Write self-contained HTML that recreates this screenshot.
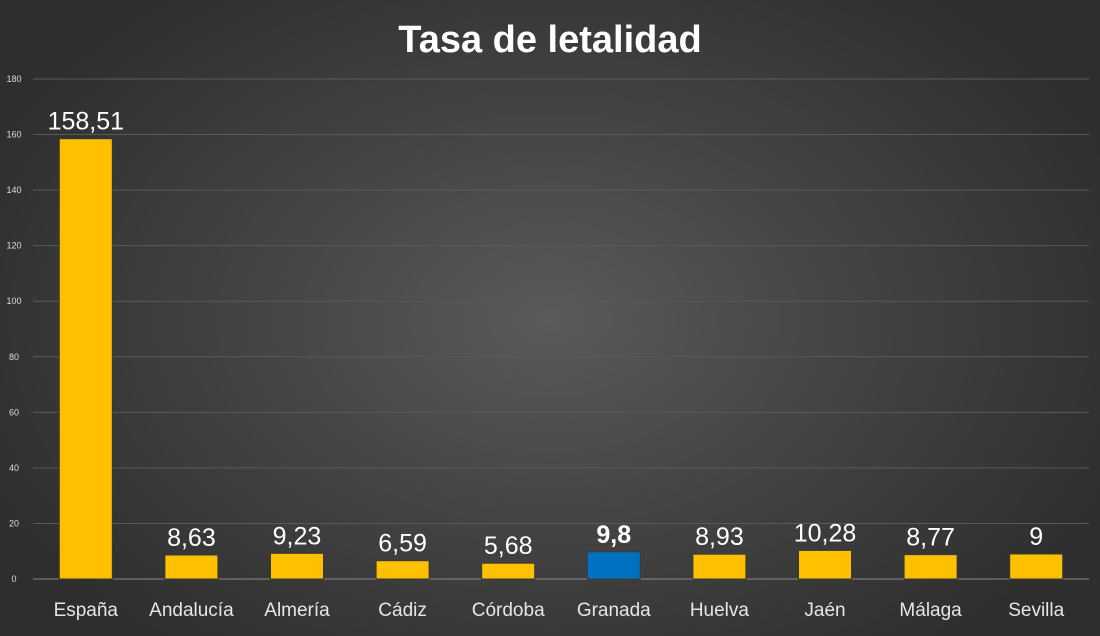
<!DOCTYPE html>
<html><head><meta charset="utf-8"><style>
html,body{margin:0;padding:0;}
body{width:1100px;height:631px;overflow:hidden;background:radial-gradient(ellipse 620px 420px at 550px 320px,#5a5a5a 0%,#454545 45%,#2e2e2e 100%);font-family:"Liberation Sans",sans-serif;}
</style></head><body>
<svg id="chart" width="1100" height="631" xmlns="http://www.w3.org/2000/svg">
<text x="550" y="52" text-anchor="middle" font-family="Liberation Sans" font-weight="bold" font-size="38" fill="#fff">Tasa de letalidad</text>
<g id="grid"></g><g id="bars"></g><g id="labels"></g>
</svg>
<script>
const categories=["España","Andalucía","Almería","Cádiz","Córdoba","Granada","Huelva","Jaén","Málaga","Sevilla"];
const values=[158.51,8.63,9.23,6.59,5.68,9.8,8.93,10.28,8.77,9];
const valueLabels=["158,51","8,63","9,23","6,59","5,68","9,8","8,93","10,28","8,77","9"];
const yTicks=[0,20,40,60,80,100,120,140,160,180];
const highlight="Granada";
const NS="http://www.w3.org/2000/svg";
const x0=33,x1=1089,yBase=579,yTop=79,yMax=180;
const y=v=>yBase-(v/yMax)*(yBase-yTop);
const band=(x1-x0)/categories.length;
const xc=i=>x0+band*(i+0.5);
function mk(t,a,p){const e=document.createElementNS(NS,t);for(const k in a)e.setAttribute(k,a[k]);p.appendChild(e);return e;}
const grid=document.getElementById('grid'),bars=document.getElementById('bars'),labels=document.getElementById('labels');
yTicks.forEach(t=>{
  const l=mk('line',{x1:x0,x2:x1,y1:y(t),y2:y(t),stroke:t===0?'#8a8a8a':'#595959','stroke-width':1},grid);
  
  
  const tx=mk('text',{x:14,y:y(t)+3,'text-anchor':'middle','font-size':9,fill:'#ddd','font-family':'Liberation Sans'},grid);
  tx.textContent=t;
  
  
});
const bw=53;
categories.forEach((c,i)=>{
  const hi=c===highlight;
  const r=mk('rect',{x:xc(i)-bw/2,y:y(values[i]),width:bw,height:yBase-y(values[i]),fill:hi?'#0070c0':'#ffc000',stroke:'#3a3a3a','stroke-width':1},bars);
  
  
  const v=mk('text',{x:xc(i),y:y(values[i])-9,'text-anchor':'middle','font-size':25,fill:'#fff','font-weight':hi?'bold':'normal','font-family':'Liberation Sans'},labels);
  v.textContent=valueLabels[i];
  
  
  const cl=mk('text',{x:xc(i),y:616,'text-anchor':'middle','font-size':19,fill:'#e6e6e6','font-family':'Liberation Sans'},labels);
  cl.textContent=c;
  
  
});
</script>
</body></html>
